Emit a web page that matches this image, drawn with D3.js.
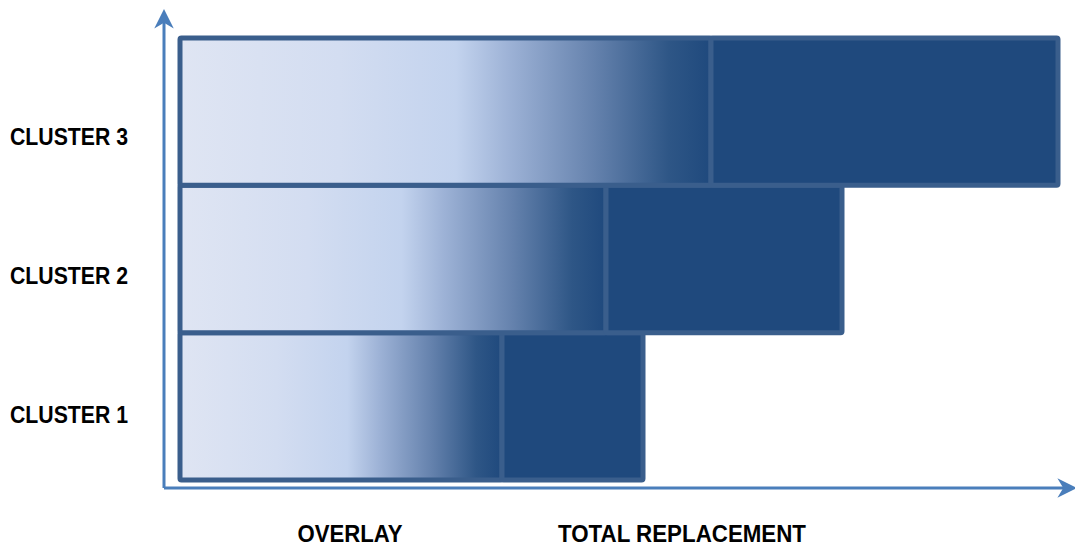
<!DOCTYPE html>
<html><head><meta charset="utf-8">
<script src="https://cdn.jsdelivr.net/npm/d3@7"></script>
<style>body{margin:0;background:#fff}svg{display:block}</style>
</head><body>
<script>
const clusters = ["CLUSTER 1", "CLUSTER 2", "CLUSTER 3"];
const overlay = [32.2, 42.6, 53.1];
const replacement = [14.1, 23.6, 34.7];
const xCategories = ["OVERLAY", "TOTAL REPLACEMENT"];

const W = 1075, H = 547;
const svg = d3.select("body").append("svg").attr("width", W).attr("height", H);
const defs = svg.append("defs");

const x = d3.scaleLinear().domain([0, 88]).range([180, 1060]);
const y = d3.scaleBand().domain(clusters).range([480, 38]).padding(0);
const yLab = d3.scalePoint().domain(clusters).range([416, 138]);
const xLab = d3.scalePoint().domain(xCategories).range([350, 682]);

const grad = defs.append("linearGradient").attr("id", "ovg")
  .attr("x1", "0%").attr("x2", "100%").attr("y1", "0%").attr("y2", "0%");
[[0, "#dfe5f3"], [0.3, "#d3ddf1"], [0.52, "#c3d3ee"], [0.62, "#9db2d6"],
 [0.78, "#6582ad"], [0.92, "#2e5686"], [1, "#1f497d"]]
  .forEach(([o, c]) => grad.append("stop").attr("offset", o).attr("stop-color", c));

defs.append("marker").attr("id", "arr")
  .attr("viewBox", "0 0 10 10").attr("refX", 8).attr("refY", 5)
  .attr("markerWidth", 6.5).attr("markerHeight", 6.5).attr("markerUnits", "strokeWidth")
  .attr("orient", "auto")
  .append("path").attr("d", "M0,0 L10,5 L0,10 L3,5 Z").attr("fill", "#4a7ebb");

// axes
svg.append("line").attr("x1", 164).attr("y1", 488).attr("x2", 164).attr("y2", 13)
  .attr("stroke", "#4a7ebb").attr("stroke-width", 3).attr("marker-end", "url(#arr)");
svg.append("line").attr("x1", 164).attr("y1", 488).attr("x2", 1073).attr("y2", 488)
  .attr("stroke", "#4a7ebb").attr("stroke-width", 3).attr("marker-end", "url(#arr)");

const g = svg.append("g");
clusters.forEach((c, i) => {
  g.append("rect").attr("x", x(0)).attr("y", y(c))
    .attr("width", x(overlay[i]) - x(0)).attr("height", y.bandwidth())
    .attr("fill", "url(#ovg)").attr("stroke", "#3a5e8c").attr("stroke-width", 5)
    .attr("rx", 1.5);
  g.append("rect").attr("x", x(overlay[i])).attr("y", y(c))
    .attr("width", x(overlay[i] + replacement[i]) - x(overlay[i])).attr("height", y.bandwidth())
    .attr("fill", "#1f497d").attr("stroke", "#3a5e8c").attr("stroke-width", 5)
    .attr("rx", 1.5);
});

const font = "'Liberation Sans', Arial, sans-serif";
svg.append("g").selectAll("text").data(clusters).join("text")
  .attr("x", 10).attr("y", d => yLab(d) + 7)
  .attr("font-family", font).attr("font-weight", "bold").attr("font-size", 24)
  .attr("textLength", 118).attr("lengthAdjust", "spacingAndGlyphs")
  .attr("fill", "#000").text(d => d);
const xLens = [105, 248];
svg.append("g").selectAll("text").data(xCategories).join("text")
  .attr("x", d => xLab(d)).attr("y", 542).attr("text-anchor", "middle")
  .attr("font-family", font).attr("font-weight", "bold").attr("font-size", 24)
  .attr("textLength", (d, i) => xLens[i]).attr("lengthAdjust", "spacingAndGlyphs")
  .attr("fill", "#000").text(d => d);
</script>
</body></html>
